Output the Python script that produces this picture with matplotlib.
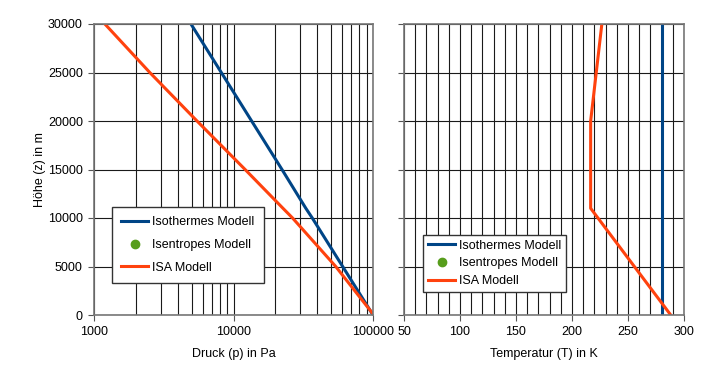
import matplotlib
matplotlib.use('Agg')
import matplotlib.pyplot as plt
import matplotlib.ticker as tick

plt.rcParams['font.family'] = ['Liberation Sans', 'DejaVu Sans']

# heights in m
z_vals = [0, 5000, 10000, 11000, 15000, 20000, 25000, 30000]

# pressure in Pa
p_iso = [100000, 60600, 36700, 33000, 22260, 13490, 8175, 4955]
p_isa = [101325, 54048, 26500, 22632, 12111, 5475, 2511, 1197]

# temperature in K
t_iso = [280, 280, 280, 280, 280, 280, 280, 280]
t_isa = [288.15, 255.65, 223.15, 216.65, 216.65, 216.65, 221.65, 226.65]

labels = ["Isothermes Modell", "Isentropes Modell", "ISA Modell"]
c_iso = '#004586'
c_isen = '#579d1c'
c_isa = '#ff420e'

px = 1 / 100
fig = plt.figure(figsize=(708 * px, 372 * px), dpi=100)
ax1 = fig.add_axes([94 / 708, 57 / 372, 279 / 708, 291 / 372])
ax2 = fig.add_axes([404 / 708, 57 / 372, 280 / 708, 291 / 372])

grid_kw = dict(color='#1a1a1a', linewidth=0.8)

# left: pressure
ax1.plot(p_iso, z_vals, color=c_iso, lw=2.2, label=labels[0])
ax1.plot([], [], 'o', color=c_isen, ms=6, label=labels[1])
ax1.plot(p_isa, z_vals, color=c_isa, lw=2.2, label=labels[2])
ax1.set_xscale('log')
ax1.set_xlim(1000, 100000)
ax1.set_ylim(0, 30000)
ax1.set_xticks([1000, 10000, 100000])
ax1.xaxis.set_major_formatter(tick.FuncFormatter(lambda x, pos: '{:.0f}'.format(x)))
ax1.xaxis.set_minor_formatter(tick.NullFormatter())
ax1.set_yticks(range(0, 30001, 5000))
ax1.grid(True, which='both', axis='x', **grid_kw)
ax1.grid(True, which='major', axis='y', **grid_kw)
ax1.tick_params(which='minor', length=0)
ax1.set_xlabel("Druck (p) in Pa", fontsize=9, labelpad=7)
ax1.set_ylabel("Höhe (z) in m", fontsize=9, labelpad=1)
ax1.legend(loc='lower left', bbox_to_anchor=(0.063, 0.11), fontsize=9,
           fancybox=False, edgecolor='#333333', framealpha=1,
           handlelength=2.2, handletextpad=0.3, borderpad=0.75,
           labelspacing=0.85, borderaxespad=0)

# right: temperature
ax2.plot(t_iso, z_vals, color=c_iso, lw=2.2, label=labels[0])
ax2.plot([], [], 'o', color=c_isen, ms=6, label=labels[1])
ax2.plot(t_isa, z_vals, color=c_isa, lw=2.2, label=labels[2])
ax2.set_xlim(50, 300)
ax2.set_ylim(0, 30000)
ax2.set_xticks(range(50, 301, 50))
ax2.set_xticks(range(50, 301, 10), minor=True)
ax2.set_yticks(range(0, 30001, 5000))
ax2.set_yticklabels([])
ax2.grid(True, which='both', axis='x', **grid_kw)
ax2.grid(True, which='major', axis='y', **grid_kw)
ax2.tick_params(which='minor', length=0)
ax2.set_xlabel("Temperatur (T) in K", fontsize=9, labelpad=7)
ax2.legend(loc='lower left', bbox_to_anchor=(0.067, 0.079), fontsize=9,
           fancybox=False, edgecolor='#333333', framealpha=1,
           handlelength=2.2, handletextpad=0.3, borderpad=0.4,
           labelspacing=0.45, borderaxespad=0)

for ax in (ax1, ax2):
    ax.tick_params(which='major', length=4, width=0.8, color='#555555',
                   labelsize=9, pad=4)
    for s in ax.spines.values():
        s.set_color('#777777')
        s.set_linewidth(1.2)
    ax.set_axisbelow(True)

fig.savefig("out.png", dpi=100)
